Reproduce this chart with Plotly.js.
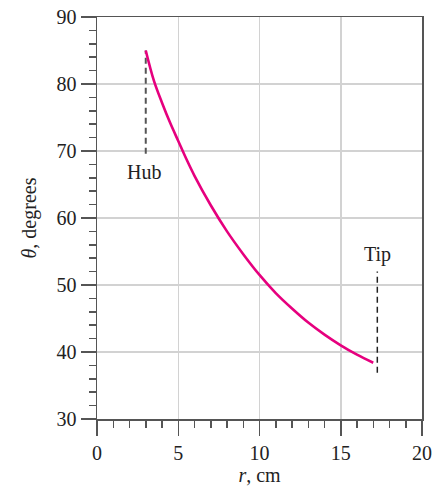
<!DOCTYPE html>
<html>
<head>
<meta charset="utf-8">
<script src="https://cdn.plot.ly/plotly-3.0.1.min.js"></script>
<style>html,body{margin:0;padding:0;background:#fff;}#chart{width:441px;height:487px;}</style>
</head>
<body>
<div id="chart"></div>
<script>
// Radius r (cm) and blade angle theta (degrees)
const rValues = [3.0, 3.5, 4.0, 4.5, 5.0, 5.5, 6.0, 7.0, 8.0, 9.0, 10.0, 11.0, 12.0, 13.0, 14.0, 15.0, 16.0, 17.0];
const thetaValues = [85.0, 80.5, 77.2, 74.2, 71.5, 68.8, 66.3, 61.9, 58.0, 54.6, 51.5, 48.8, 46.5, 44.4, 42.6, 41.0, 39.6, 38.4];

// Hub and tip markers
const hubR = [3.0, 3.0];
const hubTheta = [69.6, 85.0];
const tipR = [17.25, 17.25];
const tipTheta = [36.9, 52.0];
const labelTexts = ["Hub", "Tip"];
const labelR = [2.9, 17.25];
const labelTheta = [66.9, 54.5];

const xTicks = [0, 5, 10, 15, 20];
const yTicks = [30, 40, 50, 60, 70, 80, 90];

const serif = "Liberation Serif, Times New Roman, serif";

const traces = [
  {x: hubR, y: hubTheta, mode: "lines", line: {color: "#555", width: 2, dash: "6px,4px"}, hoverinfo: "skip"},
  {x: tipR, y: tipTheta, mode: "lines", line: {color: "#222", width: 1.5, dash: "6px,4px"}, hoverinfo: "skip"},
  {x: rValues, y: thetaValues, mode: "lines", line: {color: "#e6007e", width: 2.6, shape: "spline", smoothing: 1}}
];

const axisCommon = {
  showline: true, mirror: true, linecolor: "#555", linewidth: 1.5,
  showgrid: true, gridcolor: "#d2d2d2", gridwidth: 1.5,
  zeroline: false,
  ticks: "outside", ticklen: 15, tickwidth: 1.5, tickcolor: "#555",
  tickfont: {family: serif, size: 20, color: "#222"}
};

const layout = {
  width: 441, height: 487,
  margin: {l: 97, r: 19, t: 17, b: 68},
  paper_bgcolor: "#fff", plot_bgcolor: "#fff",
  showlegend: false,
  font: {family: serif, color: "#222"},
  xaxis: Object.assign({}, axisCommon, {
    range: [0, 20], tickvals: xTicks, ticktext: xTicks.map(String),
    minor: {dtick: 1, ticks: "outside", ticklen: 7, tickwidth: 1.5, tickcolor: "#555", showgrid: false},
    title: {text: "<i>r</i>, cm", font: {family: serif, size: 20, color: "#222"}, standoff: 4}
  }),
  yaxis: Object.assign({}, axisCommon, {
    range: [30, 90], tickvals: yTicks, ticktext: yTicks.map(String),
    minor: {dtick: 2, ticks: "outside", ticklen: 7, tickwidth: 1.5, tickcolor: "#555", showgrid: false},
    title: {text: "<i>θ</i>, degrees", font: {family: serif, size: 20, color: "#222"}, standoff: 14}
  }),
  annotations: labelTexts.map((t, i) => ({
    x: labelR[i], y: labelTheta[i], text: t, showarrow: false,
    font: {family: serif, size: 20, color: "#222"}, xanchor: "center", yanchor: "middle"
  }))
};

Plotly.newPlot("chart", traces, layout, {staticPlot: true, displayModeBar: false});
</script>
</body>
</html>
